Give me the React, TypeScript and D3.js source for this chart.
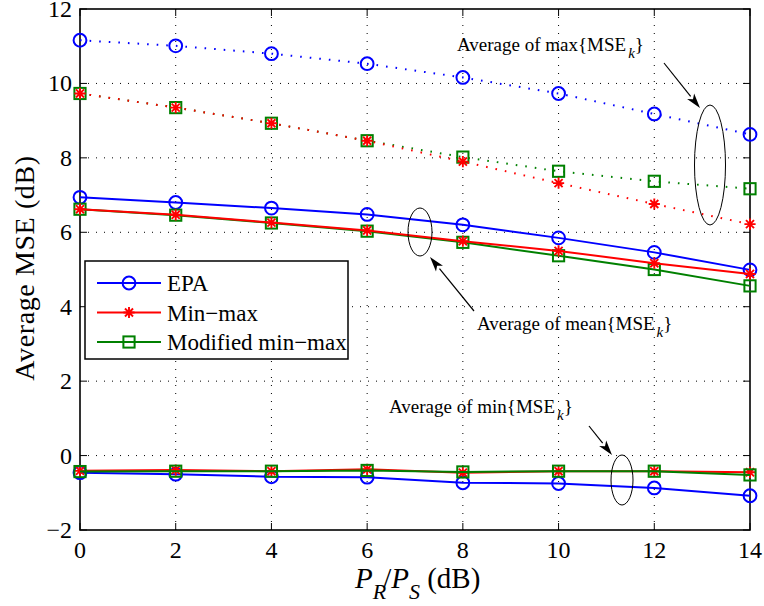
import React from "react";
import * as d3 from "d3";

const xValues = [0, 2, 4, 6, 8, 10, 12, 14];
const xTicks = [0, 2, 4, 6, 8, 10, 12, 14];
const yTicks = [-2, 0, 2, 4, 6, 8, 10, 12];

// Average of max{MSE_k}
const epaMax = [11.16, 11.01, 10.8, 10.53, 10.16, 9.73, 9.18, 8.63];
const minmaxMax = [9.73, 9.35, 8.93, 8.46, 7.9, 7.32, 6.76, 6.22];
const modMax = [9.73, 9.35, 8.93, 8.46, 8.02, 7.64, 7.37, 7.17];

// Average of mean{MSE_k}
const epaMean = [6.94, 6.8, 6.65, 6.48, 6.2, 5.85, 5.46, 4.99];
const minmaxMean = [6.62, 6.47, 6.26, 6.05, 5.76, 5.5, 5.17, 4.88];
const modMean = [6.62, 6.46, 6.25, 6.03, 5.73, 5.37, 5.0, 4.56];

// Average of min{MSE_k}
const epaMin = [-0.46, -0.5, -0.57, -0.58, -0.73, -0.75, -0.87, -1.08];
const minmaxMin = [-0.41, -0.39, -0.42, -0.37, -0.46, -0.42, -0.42, -0.45];
const modMin = [-0.43, -0.42, -0.42, -0.4, -0.44, -0.42, -0.42, -0.52];

const seriesNames = ["EPA", "Min\u2212max", "Modified min\u2212max"];

const BLUE = "#0000ff";
const RED = "#ff0000";
const GREEN = "#008000";
const FONT = "'Liberation Serif', 'DejaVu Serif', serif";

const W = 764;
const H = 606;
const L = 80;
const R = 750;
const T = 9;
const B = 530;

const x = d3.scaleLinear().domain([0, 14]).range([L, R]);
const y = d3.scaleLinear().domain([-2, 12]).range([B, T]);

const lineGen = d3
  .line<number>()
  .x((_, i) => x(xValues[i]))
  .y((d) => y(d));

type Kind = "circle" | "star" | "square";

function Marker({ kind, cx, cy, color }: { kind: Kind; cx: number; cy: number; color: string }) {
  if (kind === "circle") {
    return <circle cx={cx} cy={cy} r={6.4} fill="none" stroke={color} strokeWidth={2} />;
  }
  if (kind === "square") {
    const s = 5.6;
    return (
      <rect x={cx - s} y={cy - s} width={2 * s} height={2 * s} fill="none" stroke={color} strokeWidth={2} />
    );
  }
  const a = 5.6;
  const b = a * 0.72;
  const dPath = `M${cx - a},${cy}L${cx + a},${cy}M${cx},${cy - a}L${cx},${cy + a}M${cx - b},${cy - b}L${cx + b},${cy + b}M${cx - b},${cy + b}L${cx + b},${cy - b}`;
  return <path d={dPath} stroke={color} strokeWidth={1.9} fill="none" />;
}

function Series({ data, color, kind, dotted }: { data: number[]; color: string; kind: Kind; dotted?: boolean }) {
  return (
    <g>
      <path
        d={lineGen(data) || ""}
        fill="none"
        stroke={color}
        strokeWidth={2}
        strokeDasharray={dotted ? "1.6,8" : undefined}
      />
      {data.map((v, i) => (
        <Marker key={i} kind={kind} cx={x(xValues[i])} cy={y(v)} color={color} />
      ))}
    </g>
  );
}

function Arrow({ x1, y1, x2, y2 }: { x1: number; y1: number; x2: number; y2: number }) {
  const ang = Math.atan2(y2 - y1, x2 - x1);
  const len = 15;
  const half = 4.5;
  const bx = x2 - len * Math.cos(ang);
  const by = y2 - len * Math.sin(ang);
  const px = -Math.sin(ang) * half;
  const py = Math.cos(ang) * half;
  return (
    <g>
      <line x1={x1} y1={y1} x2={bx} y2={by} stroke="#000" strokeWidth={1.2} />
      <path d={`M${x2},${y2}L${bx + px},${by + py}L${bx + len * 0.25 * Math.cos(ang)},${by + len * 0.25 * Math.sin(ang)}L${bx - px},${by - py}Z`} fill="#000" />
    </g>
  );
}

function Annot({ x0, y0, word }: { x0: number; y0: number; word: string }) {
  return (
    <text x={x0} y={y0} fontSize={19} fill="#000">
      {`Average of ${word}{MSE`}
      <tspan dx={2} dy={7} fontStyle="italic" fontSize={15}>k</tspan>
      <tspan dy={-7}>{"}"}</tspan>
    </text>
  );
}

export default function App() {
  const legendX = 85;
  const legendY = 261;
  const legendRows = [
    { name: seriesNames[0], color: BLUE, kind: "circle" as Kind },
    { name: seriesNames[1], color: RED, kind: "star" as Kind },
    { name: seriesNames[2], color: GREEN, kind: "square" as Kind },
  ];
  return (
    <svg width={W} height={H} style={{ position: "absolute", left: 0, top: 0, background: "#fff", fontFamily: FONT }}>
      <rect x={0} y={0} width={W} height={H} fill="#fff" />
      {/* grid */}
      {xTicks.slice(1, -1).map((t) => (
        <line key={"gx" + t} x1={x(t)} x2={x(t)} y1={T} y2={B} stroke="#000" strokeWidth={1} strokeDasharray="1,7" />
      ))}
      {yTicks.slice(1, -1).map((t) => (
        <line key={"gy" + t} x1={L} x2={R} y1={y(t)} y2={y(t)} stroke="#000" strokeWidth={1} strokeDasharray="1,7" />
      ))}
      {/* ticks */}
      {xTicks.map((t) => (
        <g key={"tx" + t}>
          <line x1={x(t)} x2={x(t)} y1={B} y2={B - 7} stroke="#000" strokeWidth={1} />
          <line x1={x(t)} x2={x(t)} y1={T} y2={T + 7} stroke="#000" strokeWidth={1} />
          <text x={x(t)} y={B + 28} textAnchor="middle" fontSize={24}>
            {t}
          </text>
        </g>
      ))}
      {yTicks.map((t) => (
        <g key={"ty" + t}>
          <line x1={L} x2={L + 7} y1={y(t)} y2={y(t)} stroke="#000" strokeWidth={1} />
          <line x1={R} x2={R - 7} y1={y(t)} y2={y(t)} stroke="#000" strokeWidth={1} />
          <text x={L - 8} y={y(t) + 8} textAnchor="end" fontSize={24}>
            {t < 0 ? "\u2212" + Math.abs(t) : t}
          </text>
        </g>
      ))}
      {/* frame */}
      <rect x={L} y={T} width={R - L} height={B - T} fill="none" stroke="#000" strokeWidth={1.6} />

      {/* max group */}
      <Series data={epaMax} color={BLUE} kind="circle" dotted />
      <Series data={modMax} color={GREEN} kind="square" dotted />
      <Series data={minmaxMax} color={RED} kind="star" dotted />
      {/* mean group */}
      <Series data={epaMean} color={BLUE} kind="circle" />
      <Series data={modMean} color={GREEN} kind="square" />
      <Series data={minmaxMean} color={RED} kind="star" />
      {/* min group */}
      <Series data={epaMin} color={BLUE} kind="circle" />
      <Series data={minmaxMin} color={RED} kind="star" />
      <Series data={modMin} color={GREEN} kind="square" />

      {/* annotations */}
      <ellipse cx={710} cy={165} rx={15.5} ry={60} fill="none" stroke="#000" strokeWidth={1} />
      <ellipse cx={420} cy={232} rx={12} ry={24} fill="none" stroke="#000" strokeWidth={1} />
      <ellipse cx={622} cy={480} rx={11} ry={25} fill="none" stroke="#000" strokeWidth={1} />
      <Arrow x1={664} y1={63} x2={700} y2={108} />
      <Arrow x1={474} y1={311} x2={430} y2={257} />
      <Arrow x1={589} y1={426} x2={612} y2={455} />
      <Annot x0={457} y0={51} word="max" />
      <Annot x0={477} y0={330} word="mean" />
      <Annot x0={389} y0={413} word="min" />

      {/* legend */}
      <rect x={legendX} y={legendY} width={263} height={98} fill="#fff" stroke="#000" strokeWidth={1.5} />
      {legendRows.map((r, i) => {
        const ly = legendY + 22 + i * 29.5;
        return (
          <g key={r.name}>
            <line x1={97} x2={161} y1={ly} y2={ly} stroke={r.color} strokeWidth={2} />
            <Marker kind={r.kind} cx={129} cy={ly} color={r.color} />
            <text x={167} y={ly + 8} fontSize={23}>
              {r.name}
            </text>
          </g>
        );
      })}

      {/* axis labels */}
      <text
        transform={`translate(34,268) rotate(-90)`}
        textAnchor="middle"
        fontSize={28}
        letterSpacing={0.6}
      >
        Average MSE (dB)
      </text>
      <text x={355} y={588} fontSize={29}>
        <tspan fontStyle="italic">P</tspan>
        <tspan fontStyle="italic" fontSize={22} dy={11}>R</tspan>
        <tspan dy={-11} dx={-3}>/</tspan>
        <tspan fontStyle="italic">P</tspan>
        <tspan fontStyle="italic" fontSize={22} dy={11}>S</tspan>
        <tspan dy={-11}> (dB)</tspan>
      </text>
    </svg>
  );
}
